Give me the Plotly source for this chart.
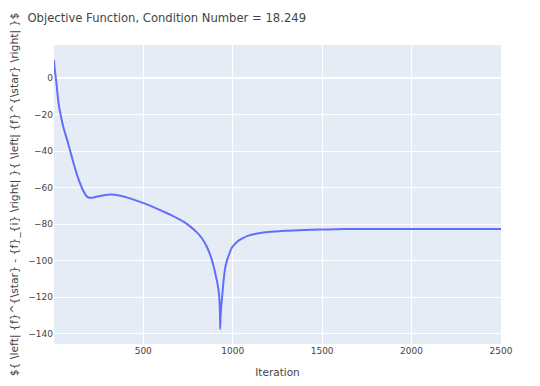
import plotly.graph_objects as go

iterations = [1, 5, 10, 15, 20, 27, 40, 55, 75, 92, 110, 130, 150, 166, 180, 194, 215, 241, 280, 316,
              372, 430, 502, 560, 614, 651, 700, 725, 765, 800, 830, 856, 875, 893, 905, 915, 922, 926,
              929, 930, 932, 935, 940, 949, 958, 968, 980, 995, 1013, 1033, 1060, 1088, 1130, 1182,
              1240, 1293, 1370, 1442, 1530, 1628, 1800, 2000, 2250, 2500]
objective_db = [10, 5, 1, -3, -8, -14, -21, -27.5, -34, -40, -46.5, -53, -58.5, -62, -64.3, -65.4, -65.5,
                -64.9, -64.1, -63.7, -64.4, -66, -68.5, -70.8, -73.2, -74.8, -77.3, -78.6, -81.5, -84.5,
                -88, -92.5, -97, -103, -108, -112.6, -117, -121.8, -130, -137.5, -131, -126, -121, -111,
                -104, -100, -96.5, -93, -90.8, -89, -87.5, -86.3, -85.3, -84.5, -84, -83.6, -83.3, -83.1,
                -82.9, -82.7, -82.6, -82.6, -82.6, -82.6]

title_text = "Objective Function, Condition Number = 18.249"
x_title = "Iteration"
y_title = r"${ \left| {f}^{\star} - {f}_{i} \right| }{ \left| {f}^{\star} \right| }$"

FONT = "DejaVu Sans, Verdana, sans-serif"

fig = go.Figure()
fig.add_trace(go.Scatter(x=iterations, y=objective_db, mode="lines",
                         line=dict(color="#636efa", width=2, shape="spline", smoothing=0.6)))

fig.update_layout(
    template="plotly",
    width=540, height=386,
    margin=dict(l=46, r=47, t=37, b=50, autoexpand=False),
    title=dict(text=title_text, xref="container", x=0.036, xanchor="left",
               yref="container", y=0.974, yanchor="middle",
               font=dict(size=11.6, family=FONT, color="#444")),
    showlegend=False,
    font=dict(size=10, family=FONT, color="#444"),
)
fig.update_xaxes(title=dict(text=x_title, font=dict(size=10.5), standoff=13),
                 range=[1, 2500], tickfont=dict(size=9), automargin=False)
fig.update_yaxes(title=dict(text=y_title, font=dict(size=10.8), standoff=23),
                 tickfont=dict(size=9), automargin=False)

fig.write_html("out.html")
